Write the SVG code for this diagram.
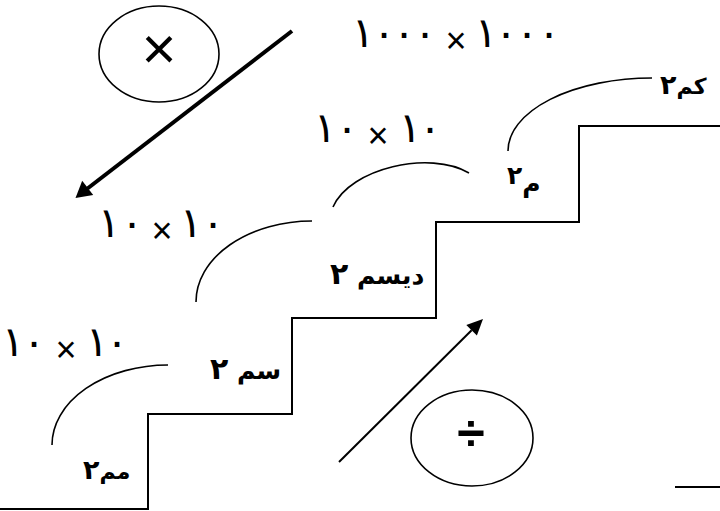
<svg xmlns="http://www.w3.org/2000/svg" width="720" height="511" viewBox="0 0 720 511">
<style>
.ln{fill:none;stroke:#000;stroke-width:2}
.arc{fill:none;stroke:#000;stroke-width:1.6}
.ell{fill:#fff;stroke:#000;stroke-width:1.6}
.num{font-family:"DejaVu Sans",sans-serif;font-size:42px;fill:#000;text-anchor:middle}
.x{font-family:"Liberation Sans",sans-serif;font-size:36px}
.lbl{font-family:"DejaVu Sans",sans-serif;font-size:25px;font-weight:bold;fill:#000}
.sm{font-size:22px}
.d{font-size:30px}
.op{font-family:"Liberation Sans",sans-serif;fill:#000;text-anchor:middle}
.head{fill:#000;stroke:none}
</style>
<rect width="720" height="511" fill="#fff"/>
<g id="stairs">
<path class="ln" d="M0,509 H148 V414 H292 V318 H436 V222 H579 V126 H720"/>
<path class="ln" d="M675,487 H720"/>
</g>
<g id="connectors">
<path class="arc" d="M52,445 A116,80 0 0 1 168,365"/>
<path class="arc" d="M196,302 A116,81 0 0 1 312,221"/>
<path class="arc" d="M333,207 C350,168 430,150 469,173"/>
<path class="arc" d="M508,151 A144,73 0 0 1 652,78"/>
<line x1="292" y1="31" x2="87.5" y2="188.5" stroke="#000" stroke-width="4"/>
<polygon class="head" points="75.5,198 82.2,180.7 93.2,194.9"/>
<line x1="339" y1="462" x2="471.6" y2="330.3" stroke="#000" stroke-width="2"/>
<polygon class="head" points="483,319 466.3,325 476.9,335.6"/>
</g>
<g id="multiply">
<ellipse class="ell" cx="159" cy="54" rx="60" ry="48"/>
<text class="op" x="159" y="69" font-size="60">×</text>
</g>
<g id="divide">
<ellipse class="ell" cx="472" cy="438" rx="61" ry="48"/>
<text class="op" x="471" y="450" font-size="50" font-weight="bold">÷</text>
</g>
<g id="factor-top"><text class="num" x="363 384 404 425 446 456 466 486 506 527 549" y="47 47 47 47 53 53 53 47 47 47 47">١٠٠٠<tspan class="x"> × </tspan>١٠٠٠</text></g>
<g id="factor-1"><text class="num" x="325 347 369 378 387 410 430" y="142 142 148 148 148 142 142">١٠<tspan class="x"> × </tspan>١٠</text></g>
<g id="factor-2"><text class="num" x="109 132 153 162 171 191 213" y="237 237 243 243 243 237 237">١٠<tspan class="x"> × </tspan>١٠</text></g>
<g id="factor-3"><text class="num" x="13 34 57 66 75 97 117" y="356 356 362 362 362 356 356">١٠<tspan class="x"> × </tspan>١٠</text></g>
<g id="km2"><text class="lbl sm" x="660" y="94">كم<tspan class="d" style="font-size:27px">٢</tspan></text></g>
<g id="m2"><text class="lbl" x="507" y="192">م<tspan style="font-size:25px" dy="-8">٢</tspan></text></g>
<g id="dm2"><text class="lbl" x="330" y="284">ديسم <tspan class="d">٢</tspan></text></g>
<g id="cm2"><text class="lbl" x="210" y="379">سم <tspan class="d">٢</tspan></text></g>
<g id="mm2"><text class="lbl sm" x="83" y="479">مم<tspan class="d" style="font-size:27px">٢</tspan></text></g>
</svg>
